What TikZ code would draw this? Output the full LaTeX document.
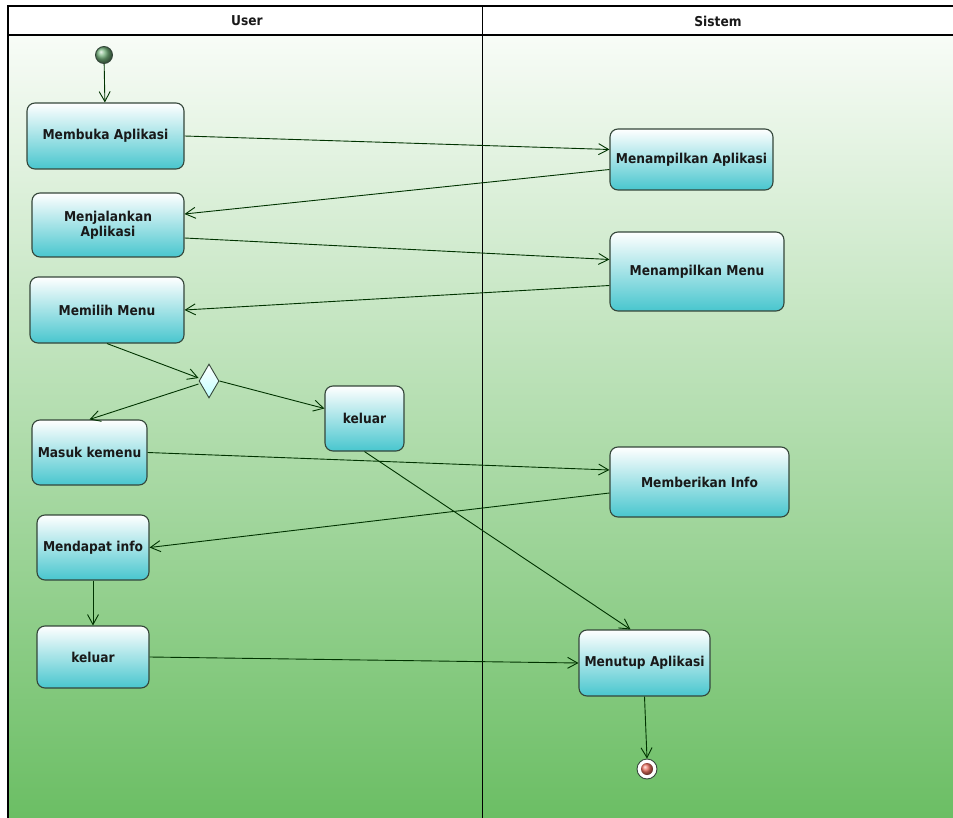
\documentclass[tikz,border=0pt]{standalone}
\usepackage{fontspec}
\setmainfont{DejaVu Sans}[FakeStretch=0.9]
\usepackage{xcolor}
\usetikzlibrary{shapes.geometric,arrows.meta}

\definecolor{bgtop}{HTML}{F8FCF7}
\definecolor{bgbot}{HTML}{6BBE64}
\definecolor{boxbot}{HTML}{48C6CE}
\definecolor{boxline}{HTML}{34463A}
\definecolor{endred}{HTML}{F07462}
\definecolor{startgreen}{HTML}{74B27C}

\begin{document}
\begin{tikzpicture}[x=1pt,y=-1pt]
				\tikzstyle{every node}=[font=\bfseries\fontsize{13.6}{15.5}\selectfont, text=black!90];
				\tikzstyle{aksi}=[draw=boxline, line width=1.1pt, rounded corners=8pt, top color=white, bottom color=boxbot, align=center, inner sep=2pt];
				\tikzstyle{panah}=[draw=black!80!green, line width=0.9pt, -{Straight Barb[length=10pt,width=11pt]}];
				\useasboundingbox (0,0) rectangle (953,818);
				
				%Lanes
				\fill[white] (8,6) rectangle (953,35);
				\shade[top color=bgtop, bottom color=bgbot] (8,35) rectangle (953,818);
				\draw[line width=1.2pt] (953,6) -- (8,6) -- (8,818);
				\draw[line width=1.2pt] (8,35) -- (953,35);
				\draw[line width=0.9pt] (482,6) -- (482,818);
				\node (user) at (247,21) {User};
				\node (sistem) at (718,21) {Sistem};
				
				%Start
				\node[circle, draw=boxline, line width=0.9pt, minimum size=17pt, inner sep=0pt, ball color=startgreen] (mulai) at (104,55) {};
				
				%Lane User
				\node[aksi, minimum width=157pt, minimum height=66pt] (membuka) at (105.5,136) {Membuka Aplikasi};
				\node[aksi, minimum width=152pt, minimum height=64pt] (menjalankan) at (108,225) {Menjalankan\\Aplikasi};
				\node[aksi, minimum width=154pt, minimum height=66pt] (memilih) at (107,310) {Memilih Menu};
				\node[diamond, draw=boxline, line width=0.9pt, top color=white, bottom color=cyan!25, minimum width=20pt, minimum height=34pt, inner sep=0pt] (pilih) at (209,381) {};
				\node[aksi, minimum width=79pt, minimum height=65pt] (keluarA) at (364.5,418.5) {keluar};
				\node[aksi, minimum width=115pt, minimum height=65pt] (masuk) at (89.5,452.5) {Masuk kemenu};
				\node[aksi, minimum width=112pt, minimum height=65pt] (mendapat) at (93,547.5) {Mendapat info};
				\node[aksi, minimum width=112pt, minimum height=62pt] (keluarB) at (93,657) {keluar};
				
				%Lane Sistem
				\node[aksi, minimum width=163pt, minimum height=61pt] (tampilApl) at (691.5,159.5) {Menampilkan Aplikasi};
				\node[aksi, minimum width=174pt, minimum height=79pt] (tampilMenu) at (697,271.5) {Menampilkan Menu};
				\node[aksi, minimum width=179pt, minimum height=70pt] (beri) at (699.5,482) {Memberikan Info};
				\node[aksi, minimum width=131pt, minimum height=66pt] (tutup) at (644.5,663) {Menutup Aplikasi};
				
				%End
				\node[circle, draw=boxline, line width=0.9pt, fill=white, minimum size=20pt, inner sep=0pt] (selesai) at (647,769) {};
				\shade[ball color=endred] (selesai.center) circle (6pt);
				
				%Lines
				\draw[panah] (mulai) -- (membuka);
				\draw[panah] (membuka.east) -- ([yshift=10pt]tampilApl.west);
				\draw[panah] ([yshift=-10pt]tampilApl.west) -- ([yshift=11pt]menjalankan.east);
				\draw[panah] ([yshift=-13pt]menjalankan.east) -- ([yshift=12pt]tampilMenu.west);
				\draw[panah] ([yshift=-14pt]tampilMenu.west) -- (memilih.east);
				\draw[panah] (memilih.south) -- ([yshift=3pt]pilih.west);
				\draw[panah] ([yshift=-3pt]pilih.west) -- (masuk.north);
				\draw[panah] (pilih.east) -- ([yshift=10pt]keluarA.west);
				\draw[panah] (masuk.east) -- ([yshift=12pt]beri.west);
				\draw[panah] ([yshift=-11pt]beri.west) -- (mendapat.east);
				\draw[panah] (keluarA.south) -- ([xshift=-14pt]tutup.north);
				\draw[panah] (mendapat.south) -- (keluarB.north);
				\draw[panah] (keluarB.east) -- (tutup.west);
				\draw[panah] (tutup.south) -- (selesai.north);

			\end{tikzpicture}
\end{document}
